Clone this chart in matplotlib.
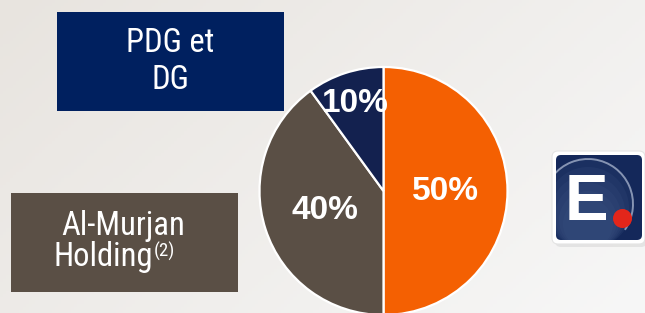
import matplotlib.pyplot as plt
import numpy as np
from matplotlib.patches import Rectangle, FancyBboxPatch, Circle, Arc

W, H = 645, 313

# data
holders = ["Public", "Al-Murjan Holding", "PDG et DG"]
shares = [50, 40, 10]
slice_colors = ["#f46002", "#5a4f45", "#13214f"]
label_dist = [0.5, 0.5, 0.74]

narrow = ["Roboto Condensed", "Archivo Narrow", "Liberation Sans", "DejaVu Sans"]
bold = ["Liberation Sans", "DejaVu Sans"]

fig = plt.figure(figsize=(W / 100, H / 100), dpi=100)
ax = fig.add_axes([0, 0, 1, 1])


def Y(y):
    return H - y


# background gradient
gx, gy = np.meshgrid(np.linspace(0, 1, 200), np.linspace(0, 1, 100))
t = np.clip(0.65 * gx + 0.35 * gy, 0, 1)
c0 = np.array([232, 228, 223]) / 255
c1 = np.array([247, 247, 247]) / 255
bg = c0[None, None, :] * (1 - t[..., None]) + c1[None, None, :] * t[..., None]
ax.imshow(bg, extent=(0, W, 0, H), origin="upper", aspect="auto", zorder=0)

# pie
wedges, texts, autotexts = ax.pie(
    shares,
    colors=slice_colors,
    startangle=90,
    counterclock=False,
    center=(383.5, Y(191)),
    radius=124,
    autopct="%d%%",
    pctdistance=0.5,
    wedgeprops=dict(edgecolor="white", linewidth=1.6),
    textprops=dict(color="white", fontsize=24, fontweight="bold", family=bold),
)
for w, at, d in zip(wedges, autotexts, label_dist):
    ang = np.deg2rad((w.theta1 + w.theta2) / 2)
    at.set_position((w.center[0] + d * w.r * np.cos(ang), w.center[1] + d * w.r * np.sin(ang)))
    at.set_va("center")
    at.set_zorder(5)

# legend boxes
ax.add_patch(Rectangle((57, Y(111)), 227, 99, facecolor="#00205f", edgecolor="none", zorder=3))
ax.text(170.5, Y(52), "PDG et", ha="center", va="baseline", color="white", fontsize=23.5, family=narrow, zorder=4)
ax.text(170.5, Y(89), "DG", ha="center", va="baseline", color="white", fontsize=23.5, family=narrow, zorder=4)

ax.add_patch(Rectangle((11, Y(292)), 227, 99, facecolor="#5a4f45", edgecolor="none", zorder=3))
ax.text(123, Y(235), "Al-Murjan", ha="center", va="baseline", color="white", fontsize=23.5, family=narrow, zorder=4)
ax.text(153, Y(266), "Holding", ha="right", va="baseline", color="white", fontsize=23.5, family=narrow, zorder=4)
ax.text(153.5, Y(257), "(2)", ha="left", va="baseline", color="white", fontsize=13.5, family=narrow, zorder=4)

# logo
ax.add_patch(FancyBboxPatch((555, Y(247)), 92, 93, boxstyle="round,pad=0,rounding_size=6",
                            facecolor="#d4d4d4", edgecolor="none", alpha=0.5, zorder=3))
ax.add_patch(FancyBboxPatch((552, Y(244)), 93, 93, boxstyle="round,pad=0,rounding_size=6",
                            facecolor="white", edgecolor="#e4e4e4", linewidth=0.8, zorder=3))
inner = FancyBboxPatch((556, Y(240)), 86, 85, boxstyle="round,pad=0,rounding_size=5",
                       facecolor="#14285a", edgecolor="none", zorder=4)
ax.add_patch(inner)
# sphere sheen: lighter near the top rim, fading downward
for k in range(6):
    r = 45 - 4 * k
    sheen = Circle((588, Y(204 + 4 * k)), r, facecolor="#3d5686", edgecolor="none", alpha=0.18, zorder=4)
    ax.add_patch(sheen)
    sheen.set_clip_path(inner)
rim = Arc((588, Y(204)), 90, 90, theta1=-35, theta2=200, edgecolor="#d0daec", linewidth=1.4,
          alpha=0.6, zorder=4.5)
ax.add_patch(rim)
rim.set_clip_path(inner)
ax.text(565, Y(220), "E", ha="left", va="baseline", color="white", fontsize=47, fontweight="bold",
        family=bold, zorder=5)
ax.add_patch(Circle((622.5, Y(218.5)), 9.5, facecolor="#e3261b", edgecolor="none", zorder=6))

ax.set_xlim(0, W)
ax.set_ylim(0, H)
ax.set_aspect("auto")
ax.axis("off")

fig.savefig("out.png", dpi=100)
